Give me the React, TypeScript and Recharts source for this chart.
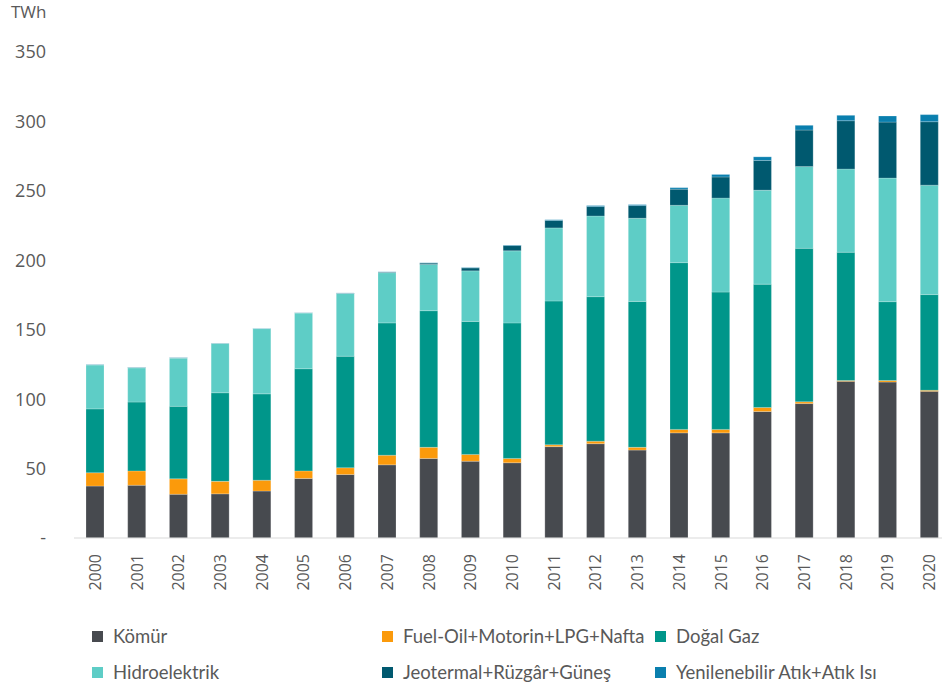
import { BarChart, Bar, XAxis, YAxis, Legend } from 'recharts';

const YEARS = ['2000', '2001', '2002', '2003', '2004', '2005', '2006', '2007', '2008', '2009', '2010',
  '2011', '2012', '2013', '2014', '2015', '2016', '2017', '2018', '2019', '2020'];

// TWh
const KOMUR = [37.4, 38.0, 31.5, 31.8, 33.8, 42.9, 45.7, 52.7, 57.3, 55.3, 54.2, 65.8, 67.9, 63.3, 75.7, 75.7, 91.1, 96.8, 112.8, 112.3, 105.6];
const FUEL_OIL = [9.6, 10.3, 11.1, 9.0, 7.8, 5.4, 4.9, 6.9, 8.0, 4.9, 3.1, 1.3, 1.8, 2.0, 2.5, 2.5, 2.9, 1.3, 0.6, 1.1, 0.8];
const DOGAL_GAZ = [46.0, 49.6, 52.2, 63.8, 62.2, 73.6, 80.3, 95.3, 98.4, 95.8, 97.6, 103.6, 104.1, 105.1, 120.1, 98.9, 88.8, 110.5, 92.4, 56.8, 68.9];
const HIDRO = [31.7, 24.7, 34.8, 35.6, 47.0, 40.2, 45.2, 36.2, 33.3, 36.4, 51.9, 52.6, 58.1, 59.9, 41.3, 67.7, 67.7, 58.9, 59.9, 89.0, 78.8];
const JEOTERMAL = [0.1, 0.1, 0.1, 0.1, 0.1, 0.1, 0.2, 0.4, 1.0, 2.1, 3.8, 5.4, 6.8, 9.1, 11.6, 15.2, 21.4, 26.3, 34.8, 40.3, 45.7];
const ATIK = [0.2, 0.2, 0.2, 0.1, 0.1, 0.1, 0.2, 0.2, 0.2, 0.3, 0.4, 0.5, 0.7, 0.7, 1.1, 1.8, 2.6, 3.4, 3.9, 4.4, 5.1];

const Y_TICKS = [0, 50, 100, 150, 200, 250, 300, 350];

const SERIES = [
  { key: 'komur', name: 'Kömür', color: '#474a4f' },
  { key: 'fuel', name: 'Fuel-Oil+Motorin+LPG+Nafta', color: '#fb9a0b' },
  { key: 'gaz', name: 'Doğal Gaz', color: '#00968a' },
  { key: 'hidro', name: 'Hidroelektrik', color: '#5ecdc6' },
  { key: 'jeo', name: 'Jeotermal+Rüzgâr+Güneş', color: '#00596f' },
  { key: 'atik', name: 'Yenilenebilir Atık+Atık Isı', color: '#0a7fae' },
];

const data = YEARS.map((year, i) => ({
  year,
  komur: KOMUR[i],
  fuel: FUEL_OIL[i],
  gaz: DOGAL_GAZ[i],
  hidro: HIDRO[i],
  jeo: JEOTERMAL[i],
  atik: ATIK[i],
}));

const FONT = '"Open Sans", "Noto Sans", sans-serif';
const LEGEND_FONT = 'Lato, "Open Sans", sans-serif';
const TEXT = '#595959';

// yillar dikey yaziliyor
const YearTick = ({ x, y, payload }: any) => (
  <text
    x={0}
    y={0}
    transform={`translate(${x + 6},${y + 8}) rotate(-90)`}
    textAnchor="end"
    fontSize={16}
    fontFamily={FONT}
    fill={TEXT}
  >
    {payload.value}
  </text>
);

const LEGEND_COLS = [92, 382, 655];
const LEGEND_ROWS = [636, 672];

const renderLegend = () => (
  <div style={{ position: 'relative', width: 942, height: 80 }}>
    {SERIES.map((s, i) => (
      <div
        key={s.key}
        style={{
          position: 'absolute',
          left: LEGEND_COLS[i % 3],
          top: LEGEND_ROWS[Math.floor(i / 3)] - 620 - 12,
          display: 'flex',
          alignItems: 'center',
          fontFamily: LEGEND_FONT,
          fontSize: 18.5,
          color: TEXT,
          whiteSpace: 'nowrap',
          lineHeight: '24px',
        }}
      >
        <span style={{ display: 'inline-block', width: 11, height: 11, background: s.color, marginRight: 10 }} />
        {s.name}
      </div>
    ))}
  </div>
);

export default function App() {
  return (
    <div style={{ position: 'fixed', left: 0, top: 0, width: 942, height: 691, overflow: 'hidden', background: '#fff' }}>
      <div style={{ position: 'absolute', left: 11, top: 0, fontFamily: FONT, fontSize: 17, color: TEXT }}>TWh</div>
      <BarChart
        width={960}
        height={691}
        data={data}
        margin={{ top: 52, right: 10, bottom: 91, left: 0 }}
      >
        <XAxis
          dataKey="year"
          height={62}
          interval={0}
          tickLine={false}
          axisLine={{ stroke: '#d9d9d9' }}
          tick={<YearTick />}
        />
        <YAxis
          width={74}
          domain={[0, 350]}
          ticks={Y_TICKS}
          interval={0}
          axisLine={false}
          tickLine={false}
          tickSize={0}
          tickMargin={28}
          tick={{ fontSize: 18, fontFamily: FONT, fill: TEXT }}
          tickFormatter={(v: number) => (v === 0 ? '-' : String(v))}
        />
        {SERIES.map((s) => (
          <Bar
            key={s.key}
            dataKey={s.key}
            name={s.name}
            stackId="a"
            fill={s.color}
            stroke="#ffffff"
            strokeOpacity={0.35}
            strokeWidth={0.6}
            barSize={18}
            isAnimationActive={false}
          />
        ))}
        <Legend
          layout="horizontal"
          verticalAlign="middle"
          align="center"
          wrapperStyle={{ left: 0, top: 620, width: 942, height: 80 }}
          content={renderLegend}
        />
      </BarChart>
    </div>
  );
}
